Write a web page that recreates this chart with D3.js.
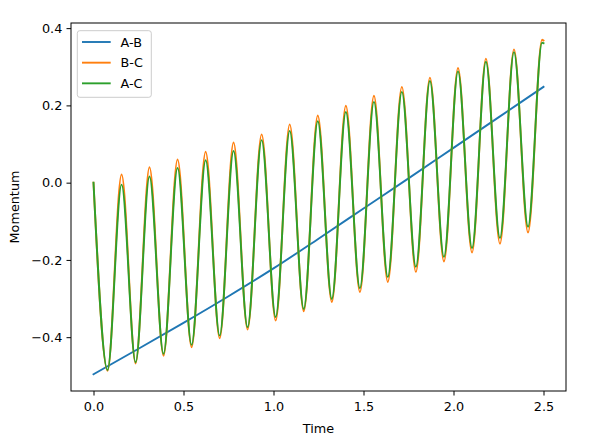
<!DOCTYPE html>
<html>
<head>
<meta charset="utf-8">
<script src="https://cdn.jsdelivr.net/npm/d3@7"></script>
<style>
  html, body { margin: 0; padding: 0; background: #fff; }
  svg { display: block; font-family: "DejaVu Sans", sans-serif; }
</style>
</head>
<body>
<svg id="chart" width="589" height="442"></svg>
<script>
// ---- data ----
const seriesNames = ["A-B", "B-C", "A-C"];
const seriesColors = ["#1f77b4", "#ff7f0e", "#2ca02c"];

// A-B: slowly rising line
const abTime  = [0, 0.25, 0.5, 0.75, 1.0, 1.25, 1.5, 1.75, 2.0, 2.25, 2.5];
const abValue = [-0.496, -0.430, -0.363, -0.294, -0.222, -0.145, -0.067, 0.011, 0.090, 0.169, 0.248];

// B-C and A-C: oscillations, sampled at start, each trough/peak, and end
const oscTime = [0, 0.078, 0.156, 0.234, 0.311, 0.389, 0.467, 0.545, 0.623, 0.701, 0.778,
                 0.856, 0.934, 1.012, 1.090, 1.168, 1.246, 1.324, 1.402, 1.480, 1.558,
                 1.635, 1.713, 1.791, 1.869, 1.947, 2.025, 2.103, 2.180, 2.258, 2.336,
                 2.414, 2.492, 2.5];
const bcValue = [0.000, -0.487, 0.021, -0.468, 0.040, -0.448, 0.060, -0.426, 0.080, -0.403, 0.104,
                 -0.380, 0.125, -0.357, 0.151, -0.333, 0.174, -0.309, 0.199, -0.283, 0.225,
                 -0.257, 0.248, -0.231, 0.272, -0.204, 0.297, -0.181, 0.321, -0.158, 0.345,
                 -0.129, 0.370, 0.368];
const acValue = [0.000, -0.485, -0.005, -0.465, 0.016, -0.443, 0.038, -0.420, 0.058, -0.396, 0.082,
                 -0.374, 0.110, -0.348, 0.134, -0.327, 0.159, -0.301, 0.183, -0.273, 0.209,
                 -0.244, 0.235, -0.218, 0.263, -0.192, 0.288, -0.169, 0.313, -0.143, 0.338,
                 -0.114, 0.362, 0.361];

const xTicks = [0, 0.5, 1.0, 1.5, 2.0, 2.5];
const yTicks = [-0.4, -0.2, 0.0, 0.2, 0.4];
const xLabel = "Time";
const yLabel = "Momentum";

// ---- layout ----
const W = 589, H = 442;
const L = 71, R = 566, T = 23, B = 391;
const FS = 12.8;

const series = [
  { name: seriesNames[0], color: seriesColors[0], pts: abTime.map((t, i) => [t, abValue[i]]) },
  { name: seriesNames[1], color: seriesColors[1], pts: oscTime.map((t, i) => [t, bcValue[i]]) },
  { name: seriesNames[2], color: seriesColors[2], pts: oscTime.map((t, i) => [t, acValue[i]]) }
];

const allX = series.flatMap(s => s.pts.map(p => p[0]));
const allY = series.flatMap(s => s.pts.map(p => p[1]));
const [x0, x1] = d3.extent(allX);
const [y0, y1] = d3.extent(allY);
const xm = (x1 - x0) * 0.05, ym = (y1 - y0) * 0.05;

const x = d3.scaleLinear().domain([x0 - xm, x1 + xm]).range([L, R]);
const y = d3.scaleLinear().domain([y0 - ym, y1 + ym]).range([B, T]);

const svg = d3.select("#chart");
svg.append("rect").attr("width", W).attr("height", H).attr("fill", "#fff");

// lines
const lineGen = d3.line().x(d => x(d[0])).y(d => y(d[1])).curve(d3.curveMonotoneX);
svg.append("g").selectAll("path").data(series).join("path")
  .attr("d", s => lineGen(s.pts))
  .attr("fill", "none")
  .attr("stroke", s => s.color)
  .attr("stroke-width", 1.9)
  .attr("stroke-linejoin", "round")
  .attr("stroke-linecap", "square");

// axes
const fmt = d3.format(".1f");
const xAxis = svg.append("g").attr("transform", `translate(0,${B})`)
  .call(d3.axisBottom(x).tickValues(xTicks).tickFormat(fmt).tickSize(4.5).tickPadding(6.3));
const yAxis = svg.append("g").attr("transform", `translate(${L},0)`)
  .call(d3.axisLeft(y).tickValues(yTicks).tickFormat(fmt).tickSize(4.5).tickPadding(4.2));
[xAxis, yAxis].forEach(g => {
  g.select(".domain").remove();
  g.selectAll(".tick line").attr("stroke", "#000").attr("stroke-width", 1);
  g.selectAll(".tick text").attr("fill", "#000").style("font-size", FS + "px")
    .style("font-family", "'DejaVu Sans', sans-serif");
});

// spines
svg.append("rect")
  .attr("x", L).attr("y", T).attr("width", R - L).attr("height", B - T)
  .attr("fill", "none").attr("stroke", "#000").attr("stroke-width", 1);

// axis labels
svg.append("text").attr("x", (L + R) / 2).attr("y", 432.7)
  .attr("text-anchor", "middle").style("font-size", FS + "px").text(xLabel);
svg.append("text")
  .attr("transform", `translate(18.7,${(T + B) / 2}) rotate(-90)`)
  .attr("text-anchor", "middle").style("font-size", FS + "px").text(yLabel);

// legend
const lg = svg.append("g");
lg.append("rect").attr("x", 77.3).attr("y", 30.7).attr("width", 74).attr("height", 66.6)
  .attr("rx", 2.5).attr("fill", "#fff").attr("fill-opacity", 0.8)
  .attr("stroke", "#cccccc").attr("stroke-width", 1);
series.forEach((s, i) => {
  const cy = 42 + i * 20.67;
  lg.append("line").attr("x1", 82).attr("x2", 110.7).attr("y1", cy).attr("y2", cy)
    .attr("stroke", s.color).attr("stroke-width", 1.9);
  lg.append("text").attr("x", 120.5).attr("y", cy + 4.7)
    .style("font-size", FS + "px").text(s.name);
});
</script>
</body>
</html>
